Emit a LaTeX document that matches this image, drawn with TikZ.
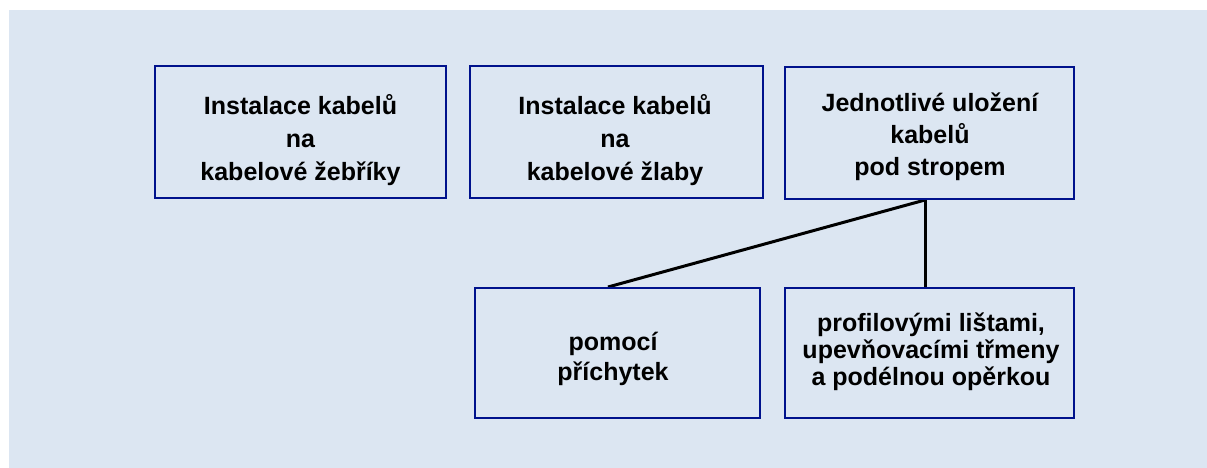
\documentclass[tikz,border=0pt]{standalone}
\usepackage{fontspec}
\setmainfont{Liberation Sans}
\usetikzlibrary{calc,backgrounds}
\definecolor{panelblue}{RGB}{220,230,242}
\definecolor{boxedge}{RGB}{0,18,140}
\begin{document}
\begin{tikzpicture}[x=1pt,y=-1pt,
  box/.style={draw=boxedge, line width=2pt, rectangle, inner sep=0pt},
  txt/.style={font=\bfseries\fontsize{25}{#1}\selectfont, align=center, inner sep=0pt},
  link/.style={draw=black, line width=3pt}]
\useasboundingbox (0,0) rectangle (1207,468);

% upper row
\node[box, minimum width=291pt, minimum height=132pt] (b1) at (300.5,132) {};
\node[box, minimum width=293pt, minimum height=132pt] (b2) at (616.5,132) {};
\node[box, minimum width=289pt, minimum height=132pt] (b3) at (929.5,133) {};
% lower row
\node[box, minimum width=285pt, minimum height=130pt] (b4) at (617.5,353) {};
\node[box, minimum width=289pt, minimum height=130pt] (b5) at (929.5,353) {};

% labels
\node[txt=33] (t1) at (300.5,140) {Instalace kabelů\\na\\kabelové žebříky};
\node[txt=33] (t2) at (615,140) {Instalace kabelů\\na\\kabelové žlaby};
\node[txt=32] (t3) at (930,137) {Jednotlivé uložení\\kabelů\\pod stropem};
\node[txt=30] (t4) at (613,358.5) {pomocí\\příchytek};
\node[txt=27] (t5) at (931,352) {profilovými lištami,\\upevňovacími třmeny\\a podélnou opěrkou};

% panel and connectors behind the boxes
\begin{pgfonlayer}{background}
  \fill[panelblue] (9,10) rectangle (1207,468);
  \coordinate (j) at ($(b3.south)+(-4.5,0)$);
  \draw[link] (j) -- (j |- b5.north);
  \draw[link] (j) -- ($(b4.north)+(-9.5,0)$);
\end{pgfonlayer}
\end{tikzpicture}
\end{document}
